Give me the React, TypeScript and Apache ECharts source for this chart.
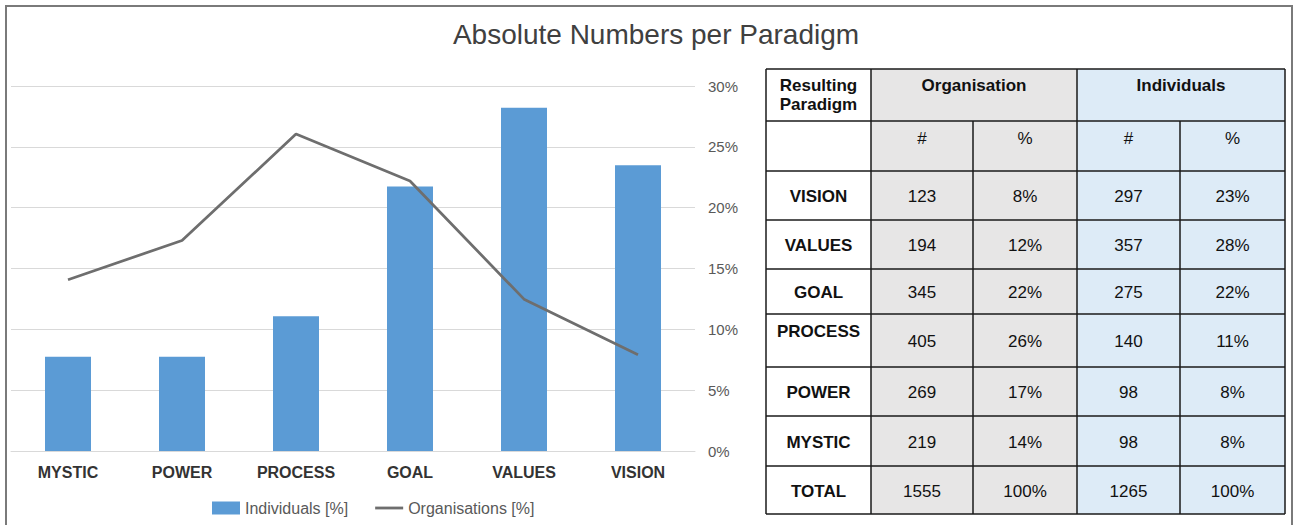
import React, { useEffect, useRef } from "react";
import * as echarts from "echarts";

// ---- chart data ----
const categories = ["MYSTIC", "POWER", "PROCESS", "GOAL", "VALUES", "VISION"];
const individualsPct = [7.75, 7.75, 11.07, 21.74, 28.22, 23.48];
const organisationsPct = [14.08, 17.3, 26.05, 22.19, 12.48, 7.91];
const yTicks = [0, 5, 10, 15, 20, 25, 30];

// ---- table data ----
const tableHeader = ["Resulting\nParadigm", "Organisation", "Individuals"];
const subHeader = ["#", "%", "#", "%"];
const tableRows = ["VISION", "VALUES", "GOAL", "PROCESS", "POWER", "MYSTIC", "TOTAL"];
const orgCounts = ["123", "194", "345", "405", "269", "219", "1555"];
const orgPct = ["8%", "12%", "22%", "26%", "17%", "14%", "100%"];
const indCounts = ["297", "357", "275", "140", "98", "98", "1265"];
const indPct = ["23%", "28%", "22%", "11%", "8%", "8%", "100%"];

// ---- layout ----
const FONT = "'Liberation Sans', Arial, sans-serif";
const colX = [766, 871, 973, 1077, 1180, 1285];
const rowY = [69, 121, 171, 220, 269, 314, 367, 416, 466, 514];
const ORG_FILL = "#e7e6e6";
const IND_FILL = "#ddebf7";
const BORDER = "#1a1a1a";

function buildTable(): any[] {
  const els: any[] = [];
  const colFill = ["#ffffff", ORG_FILL, ORG_FILL, IND_FILL, IND_FILL];
  // fills
  for (let c = 0; c < 5; c++) {
    els.push({
      type: "rect",
      shape: { x: colX[c], y: rowY[0], width: colX[c + 1] - colX[c], height: rowY[rowY.length - 1] - rowY[0] },
      style: { fill: colFill[c] },
      silent: true,
    });
  }
  // horizontal lines
  rowY.forEach((y) => {
    els.push({
      type: "line",
      shape: { x1: colX[0], y1: y, x2: colX[5], y2: y },
      style: { stroke: BORDER, lineWidth: 1.5 },
      silent: true,
    });
  });
  // vertical lines
  colX.forEach((x, i) => {
    const startY = i === 2 || i === 4 ? rowY[1] : rowY[0];
    els.push({
      type: "line",
      shape: { x1: x, y1: startY, x2: x, y2: rowY[rowY.length - 1] },
      style: { stroke: BORDER, lineWidth: 1.5 },
      silent: true,
    });
  });
  const txt = (text: string, x: number, y: number, bold: boolean, lh?: number) => ({
    type: "text",
    x,
    y,
    style: {
      text,
      fontSize: 17,
      fontWeight: bold ? "bold" : "normal",
      fontFamily: FONT,
      fill: "#111111",
      align: "center",
      verticalAlign: "middle",
      lineHeight: lh || 20,
    },
    silent: true,
  });
  const mid = (c: number) => (colX[c] + colX[c + 1]) / 2;
  // header row
  els.push(txt(tableHeader[0], mid(0), 95, true, 19.5));
  els.push(txt(tableHeader[1], (colX[1] + colX[3]) / 2, 85, true));
  els.push(txt(tableHeader[2], (colX[3] + colX[5]) / 2, 85, true));
  // sub header
  subHeader.forEach((s, i) => els.push(txt(s, mid(i + 1), 138, false)));
  // body
  tableRows.forEach((name, r) => {
    const y0 = rowY[r + 2];
    const y1 = rowY[r + 3];
    const cy = (y0 + y1) / 2 + 1;
    const labelY = name === "PROCESS" ? y0 + 17 : cy;
    els.push(txt(name, mid(0), labelY, true));
    els.push(txt(orgCounts[r], mid(1), cy, false));
    els.push(txt(orgPct[r], mid(2), cy, false));
    els.push(txt(indCounts[r], mid(3), cy, false));
    els.push(txt(indPct[r], mid(4), cy, false));
  });
  return els;
}

export default function App() {
  const ref = useRef<HTMLDivElement>(null);
  useEffect(() => {
    if (!ref.current) return;
    const chart = echarts.init(ref.current, undefined, { renderer: "svg" });
    chart.setOption({
      animation: false,
      backgroundColor: "#ffffff",
      title: {
        text: "Absolute Numbers per Paradigm",
        left: 651,
        textAlign: "center",
        top: 15,
        textStyle: { fontFamily: FONT, fontSize: 28, fontWeight: "normal", color: "#404040" },
      },
      legend: {
        data: [
          { name: "Individuals [%]", icon: "rect" },
          { name: "Organisations [%]", icon: "path://M0,0 L30,0 L30,3 L0,3 Z" },
        ],
        left: 207,
        top: 495,
        itemWidth: 28,
        itemHeight: 13,
        itemGap: 27,
        textStyle: { fontFamily: FONT, fontSize: 16, color: "#595959" },
      },
      grid: { left: 11, right: 600, top: 86, bottom: 74, containLabel: false },
      xAxis: {
        type: "category",
        data: categories,
        axisLine: { show: true, lineStyle: { color: "#d9d9d9", width: 1 } },
        axisTick: { show: false },
        axisLabel: {
          margin: 13,
          fontFamily: FONT,
          fontSize: 16,
          fontWeight: "bold",
          color: "#333333",
        },
      },
      yAxis: {
        type: "value",
        position: "right",
        min: yTicks[0],
        max: yTicks[yTicks.length - 1],
        interval: yTicks[1] - yTicks[0],
        axisLine: { show: false },
        axisTick: { show: false },
        splitLine: { lineStyle: { color: "#d9d9d9", width: 1 } },
        axisLabel: {
          margin: 13,
          formatter: "{value}%",
          fontFamily: FONT,
          fontSize: 15,
          color: "#595959",
        },
      },
      series: [
        {
          name: "Individuals [%]",
          type: "bar",
          data: individualsPct,
          barWidth: 46,
          itemStyle: { color: "#5b9bd5" },
        },
        {
          name: "Organisations [%]",
          type: "line",
          data: organisationsPct,
          symbol: "none",
          lineStyle: { color: "#6e6e6e", width: 2.75 },
          itemStyle: { color: "#6e6e6e" },
        },
      ],
      graphic: [
        {
          type: "rect",
          shape: { x: 6, y: 6, width: 1286, height: 530 },
          style: { fill: "none", stroke: "#7a7a7a", lineWidth: 2 },
          silent: true,
        },
        ...buildTable(),
      ],
    });
    return () => chart.dispose();
  }, []);
  return (
    <div
      ref={ref}
      style={{ position: "absolute", left: 0, top: 0, width: 1295, height: 525 }}
    />
  );
}
